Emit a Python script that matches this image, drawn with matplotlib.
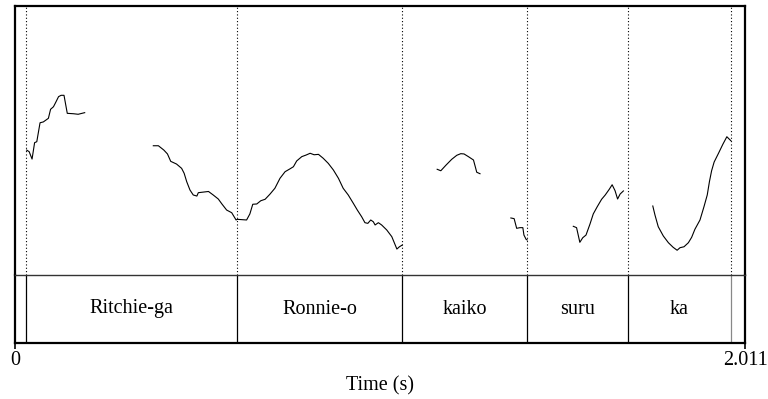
import matplotlib
matplotlib.use("Agg")
import matplotlib.pyplot as plt
import numpy as np

plt.rcParams['font.family'] = ['Liberation Serif', 'DejaVu Serif']

# Pitch track (time in s, F0 in Hz), one list per voiced stretch
seg_times = [
    [0.032, 0.039, 0.047, 0.054, 0.060, 0.069, 0.078, 0.092, 0.098, 0.106,
     0.113, 0.120, 0.127, 0.135, 0.144, 0.161, 0.174, 0.192],
    [0.381, 0.395, 0.410, 0.420, 0.429, 0.445, 0.459, 0.466, 0.473, 0.482,
     0.491, 0.501, 0.505, 0.533, 0.546, 0.560, 0.570, 0.583, 0.597, 0.609,
     0.612, 0.638, 0.647, 0.655, 0.666, 0.677, 0.689, 0.702, 0.716, 0.730,
     0.744, 0.758, 0.767, 0.776, 0.790, 0.802, 0.813, 0.824, 0.836, 0.849,
     0.863, 0.877, 0.891, 0.904, 0.918, 0.932, 0.943, 0.955, 0.964, 0.972,
     0.980, 0.987, 0.992, 1.001, 1.010, 1.024, 1.038, 1.052, 1.059, 1.067],
    [1.163, 1.173, 1.187, 1.203, 1.217, 1.228, 1.237, 1.249, 1.263, 1.268,
     1.272, 1.281],
    [1.366, 1.375, 1.382, 1.391, 1.399, 1.402, 1.408, 1.411],
    [1.538, 1.547, 1.556, 1.564, 1.573, 1.584, 1.593, 1.604, 1.616, 1.626,
     1.637, 1.645, 1.653, 1.660, 1.667, 1.676],
    [1.757, 1.763, 1.772, 1.786, 1.800, 1.813, 1.824, 1.832, 1.843, 1.855,
     1.864, 1.873, 1.887, 1.898, 1.907, 1.913, 1.919, 1.926, 1.938, 1.950,
     1.961, 1.968, 1.972],
]
seg_f0 = [
    [192.9, 191.7, 186.2, 198.4, 199.1, 213.2, 213.8, 216.5, 223.2, 225.1,
     228.8, 232.6, 233.6, 233.6, 220.2, 219.9, 219.5, 220.7],
    [196.1, 196.1, 192.9, 190.0, 184.5, 182.5, 179.3, 175.6, 169.4, 163.2,
     159.5, 158.7, 161.2, 162.1, 159.5, 156.5, 152.8, 148.3, 146.3, 140.9,
     141.4, 140.9, 145.4, 152.6, 152.8, 155.2, 156.3, 160.0, 164.5, 171.9,
     176.8, 179.0, 180.5, 184.8, 188.0, 189.2, 190.5, 189.4, 189.7, 186.8,
     183.0, 178.1, 171.9, 164.5, 159.5, 153.3, 148.3, 143.3, 138.9, 138.4,
     140.9, 139.6, 137.2, 138.9, 137.2, 133.5, 128.5, 119.3, 121.0, 122.3],
    [178.6, 177.5, 181.6, 186.0, 189.0, 190.2, 190.0, 188.0, 185.5, 180.5,
     176.4, 175.3],
    [142.4, 141.9, 134.7, 135.2, 135.2, 129.7, 126.5, 126.0],
    [136.2, 135.2, 124.3, 127.7, 129.7, 137.9, 145.4, 150.8, 156.3, 159.5,
     163.7, 167.1, 162.7, 156.5, 160.2, 162.5],
    [151.3, 144.6, 135.9, 129.0, 124.0, 120.6, 118.4, 120.3, 121.0, 124.0,
     128.0, 134.0, 140.9, 150.8, 159.5, 169.4, 177.5, 184.0, 190.5, 197.2,
     202.8, 200.9, 199.9],
]

# Word tier
boundaries = [0.030, 0.612, 1.066, 1.411, 1.689, 1.972]
words = ["Ritchie-ga", "Ronnie-o", "kaiko", "suru", "ka"]

t_end = 2.011
f0_min, f0_max = 100, 300

fig = plt.figure(figsize=(7.68, 3.99), dpi=100)
ax = fig.add_axes([15 / 768, 1 - 275 / 399, 730 / 768, 269 / 399])
tier = fig.add_axes([15 / 768, 1 - 343 / 399, 730 / 768, 68 / 399])
tier.patch.set_visible(False)

for t, f in zip(seg_times, seg_f0):
    ax.plot(t, f, color='black', lw=0.8, solid_joinstyle='round')

for b in boundaries:
    ax.axvline(b, color='black', lw=0.8, linestyle=(0, (1, 2)))

ax.set_xlim(0, t_end)
ax.set_ylim(f0_min, f0_max)
ax.set_xticks([])
ax.set_yticks([])
for side in ['top', 'left', 'right']:
    ax.spines[side].set_linewidth(1.6)
ax.spines['bottom'].set_visible(False)

# Interval tier with word labels
for i, b in enumerate(boundaries):
    tier.axvline(b, color='#888888' if i == len(boundaries) - 1 else 'black', lw=0.9)
for w, a, b in zip(words, boundaries[:-1], boundaries[1:]):
    tier.text((a + b) / 2, 0.5, w, ha='center', va='center', fontsize=14.5)

tier.set_xlim(0, t_end)
tier.set_ylim(0, 1)
tier.set_yticks([])
tier.set_xticks([0, t_end])
tier.set_xticklabels(["0", "2.011"])
tier.tick_params(axis='x', direction='out', length=4, width=1.2, labelsize=14.5, pad=2)
tier.set_xlabel("Time (s)", fontsize=14.5, labelpad=4)
tier.spines['top'].set_linewidth(1.0)
tier.spines['top'].set_color('#333333')
for side in ['bottom', 'left', 'right']:
    tier.spines[side].set_linewidth(1.6)

fig.savefig("out.png", dpi=100)
